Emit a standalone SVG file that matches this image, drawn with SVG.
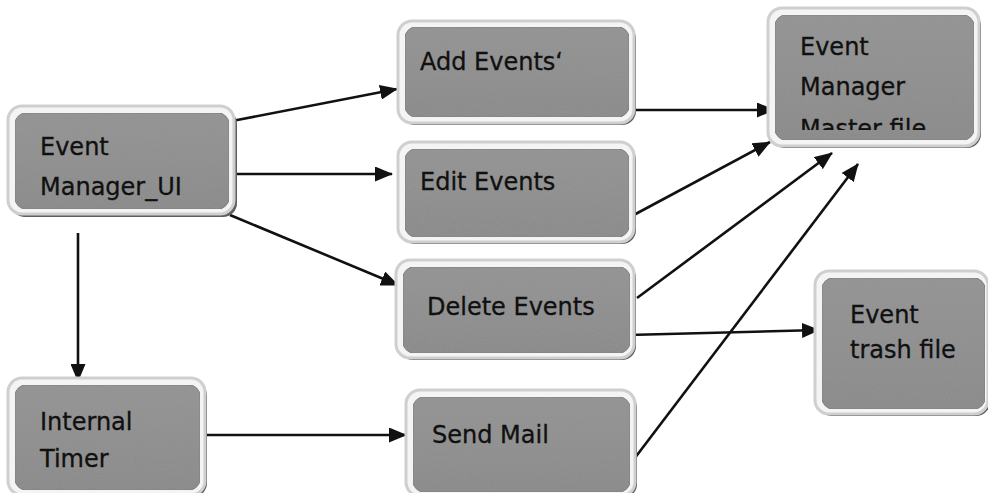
<svg xmlns="http://www.w3.org/2000/svg" width="988" height="493" viewBox="0 0 988 493">
  <style>
    .shadow { fill: #5e5e5e; }
    .rim { fill: #f4f4f4; stroke: #cfcfcf; stroke-width: 3; }
    .box { fill: url(#g); stroke: #777; stroke-width: 1; filter: url(#grain); }
    .lbl { font-family: "DejaVu Sans", Verdana, sans-serif; font-size: 24px; fill: #101010; stroke: #101010; stroke-width: 0.3; }
    .edge { stroke: #111; stroke-width: 2.6; fill: none; marker-end: url(#ah); }
  </style>
  <defs>
    <linearGradient id="g" x1="0" y1="0" x2="0" y2="1">
      <stop offset="0" stop-color="#929292"/>
      <stop offset="1" stop-color="#868686"/>
    </linearGradient>
    <filter id="grain" x="0" y="0" width="100%" height="100%">
      <feTurbulence type="fractalNoise" baseFrequency="0.9" numOctaves="1" seed="3" result="n"/>
      <feColorMatrix in="n" type="matrix" values="0 0 0 0 0.35  0 0 0 0 0.35  0 0 0 0 0.35  0 0 0 0.5 0" result="gn"/>
      <feComposite in="gn" in2="SourceGraphic" operator="in" result="gi"/>
      <feMerge><feMergeNode in="SourceGraphic"/><feMergeNode in="gi"/></feMerge>
    </filter>
    <marker id="ah" markerUnits="userSpaceOnUse" markerWidth="19" markerHeight="15" refX="17" refY="7.5" orient="auto">
      <path d="M0,0 L18,7.5 L0,15 Z" fill="#111"/>
    </marker>
    <clipPath id="mclip"><rect x="770" y="10" width="210" height="120"/></clipPath>
  </defs>
  <rect width="988" height="493" fill="#ffffff"/>

  <g id="connectors">
    <line class="edge" x1="232" y1="121" x2="397" y2="89"/>
    <line class="edge" x1="232" y1="174" x2="392" y2="174"/>
    <line class="edge" x1="230" y1="215" x2="398" y2="285"/>
    <line class="edge" x1="78" y1="233" x2="78" y2="381"/>
    <line class="edge" x1="628" y1="110" x2="774" y2="110"/>
    <line class="edge" x1="630" y1="217" x2="770" y2="142"/>
    <line class="edge" x1="637" y1="298" x2="832" y2="153"/>
    <line class="edge" x1="628" y1="335" x2="819" y2="330"/>
    <line class="edge" x1="628" y1="467" x2="858" y2="164"/>
    <line class="edge" x1="200" y1="435" x2="406" y2="435"/>
  </g>

  <g id="event-manager-ui">
    <rect class="shadow" x="11" y="110" width="226" height="107" rx="14"/>
    <rect class="rim" x="8" y="106" width="226" height="108" rx="14"/>
    <rect class="box" x="15" y="113" width="214" height="96" rx="11"/>
    <text class="lbl" x="40" y="155">Event</text>
    <text class="lbl" x="40" y="195">Manager_UI</text>
  </g>

  <g id="add-events">
    <rect class="shadow" x="401" y="25" width="235" height="100" rx="14"/>
    <rect class="rim" x="398" y="21" width="236" height="102" rx="14"/>
    <rect class="box" x="405" y="27" width="224" height="90" rx="11"/>
    <text class="lbl" x="420" y="70">Add Events‘</text>
  </g>

  <g id="edit-events">
    <rect class="shadow" x="401" y="146" width="235" height="98" rx="14"/>
    <rect class="rim" x="398" y="142" width="236" height="100" rx="14"/>
    <rect class="box" x="405" y="149" width="224" height="88" rx="11"/>
    <text class="lbl" x="420" y="190">Edit Events</text>
  </g>

  <g id="delete-events">
    <rect class="shadow" x="399" y="264" width="237" height="96" rx="14"/>
    <rect class="rim" x="396" y="260" width="238" height="98" rx="14"/>
    <rect class="box" x="403" y="267" width="227" height="86" rx="11"/>
    <text class="lbl" x="427" y="315">Delete Events</text>
  </g>

  <g id="event-manager-master-file">
    <rect class="shadow" x="771" y="12" width="210" height="136" rx="14"/>
    <rect class="rim" x="768" y="8" width="211" height="138" rx="14"/>
    <rect class="box" x="775" y="15" width="199" height="125" rx="11"/>
    <g clip-path="url(#mclip)">
      <text class="lbl" x="800" y="55">Event</text>
      <text class="lbl" x="800" y="95">Manager</text>
      <text class="lbl" x="800" y="137">Master file</text>
    </g>
  </g>

  <g id="event-trash-file">
    <rect class="shadow" x="818" y="275" width="172" height="141" rx="14"/>
    <rect class="rim" x="815" y="271" width="173" height="143" rx="14"/>
    <rect class="box" x="822" y="278" width="163" height="131" rx="11"/>
    <text class="lbl" x="850" y="323">Event</text>
    <text class="lbl" x="850" y="358">trash file</text>
  </g>

  <g id="internal-timer">
    <rect class="shadow" x="11" y="382" width="196" height="115" rx="14"/>
    <rect class="rim" x="8" y="378" width="197" height="117" rx="14"/>
    <rect class="box" x="15" y="385" width="185" height="105" rx="11"/>
    <text class="lbl" x="40" y="430">Internal</text>
    <text class="lbl" x="40" y="467">Timer</text>
  </g>

  <g id="send-mail">
    <rect class="shadow" x="409" y="394" width="228" height="104" rx="14"/>
    <rect class="rim" x="406" y="390" width="229" height="106" rx="14"/>
    <rect class="box" x="413" y="397" width="217" height="95" rx="11"/>
    <text class="lbl" x="432" y="443">Send Mail</text>
  </g>
</svg>
